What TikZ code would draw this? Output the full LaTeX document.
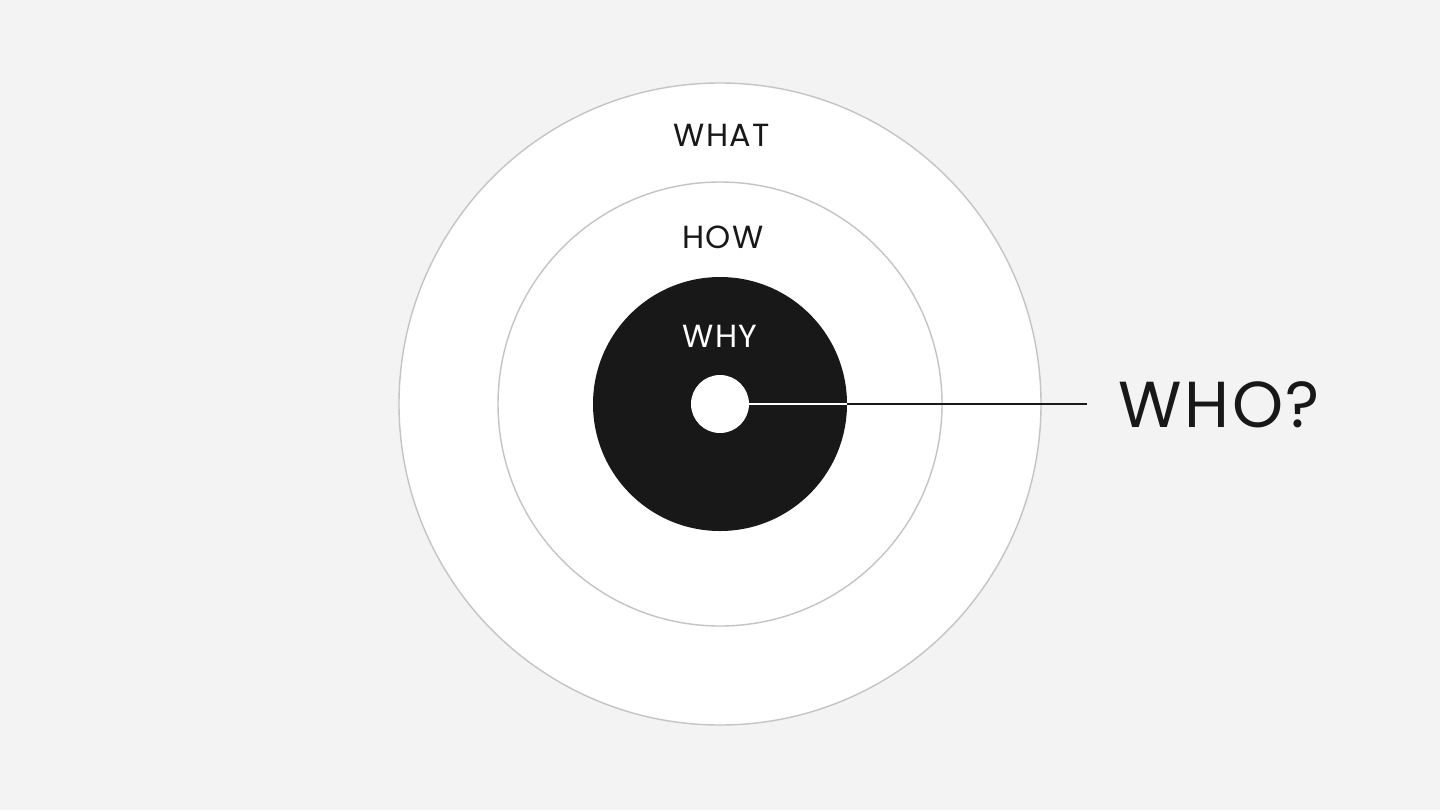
\documentclass[tikz,border=0pt]{standalone}
\usepackage{fontspec}
\setmainfont{Poppins}[LetterSpace=4]
\definecolor{bgc}{HTML}{F3F3F3}
\definecolor{ringc}{HTML}{C4C4C4}
\definecolor{corec}{HTML}{181818}
\begin{document}
\begin{tikzpicture}[x=0.5pt,y=-0.5pt,
  ring/.style={circle,draw=ringc,line width=0.7pt,fill=white,inner sep=0pt},
  lbl/.style={font=\fontsize{16}{18}\selectfont,text=corec,inner sep=0pt}]
\fill[bgc] (0,0) rectangle (1440,810);
\useasboundingbox (0,0) rectangle (1440,810);
\node[ring,minimum size=321pt] (what) at (720,404) {};
\node[ring,minimum size=222pt] (how) at (720,404) {};
\node[circle,fill=corec,inner sep=0pt,minimum size=127pt] (why) at (720,404) {};
\node[circle,fill=white,inner sep=0pt,minimum size=29pt] (who) at (720,404) {};
\coordinate (end) at (1087,404);
\draw[white,line width=1pt] (who.east) -- (why.east);
\draw[corec,line width=1pt] (why.east) -- (end);
\node[lbl] (twhat) at (722,135) {WHAT};
\node[lbl] (thow) at (723,237) {HOW};
\node[lbl,text=white] (twhy) at (720,336) {WHY};
\node[lbl,font=\fontsize{32.5}{36}\selectfont,anchor=west] (twho) at (1118,405) {WHO?};
\end{tikzpicture}
\end{document}
